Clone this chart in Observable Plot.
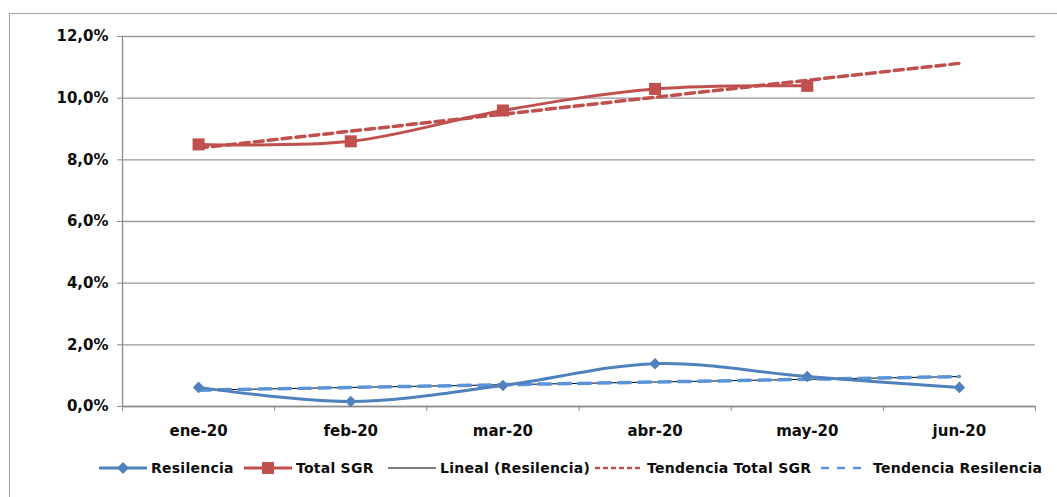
<!DOCTYPE html>
<html>
<head>
<meta charset="utf-8">
<script src="https://cdn.jsdelivr.net/npm/d3@7"></script>
<script src="https://cdn.jsdelivr.net/npm/@observablehq/plot@0.6"></script>
<style>
  html, body { margin: 0; padding: 0; background: #fff; overflow: hidden; }
  #wrap { position: relative; width: 1057px; height: 497px; font-family: "DejaVu Sans", Verdana, sans-serif; }
  #frame { position: absolute; left: 9px; top: 13px; width: 1200px; height: 600px; border-left: 1.5px solid #a3a3a3; border-top: 1.5px solid #a3a3a3; }
  #chart { position: absolute; left: 0; top: 0; }
  #legend { position: absolute; left: 0; top: 460px; width: 1057px; height: 20px; font-weight: bold; font-size: 14px; color: #0d0d0d; white-space: nowrap; letter-spacing: 0.25px; }
  .item { position: absolute; top: 0; display: flex; align-items: center; }
  .item svg { margin-right: 4px; }
</style>
</head>
<body>
<div id="wrap">
  <div id="frame"></div>
  <div id="chart"></div>
  <div id="legend"></div>
</div>
<script>
// ---- data ----
const months = ["ene-20", "feb-20", "mar-20", "abr-20", "may-20", "jun-20"];
const resilencia = [0.62, 0.16, 0.68, 1.39, 0.97, 0.62];
const totalSGR = [8.5, 8.6, 9.6, 10.3, 10.4];
const trendMonths = ["ene-20", "jun-20"];
const tendenciaTotalSGR = [8.38, 11.13];
const tendenciaResilencia = [0.53, 0.97];
const linealResilencia = [0.53, 0.97];
const yTicks = [0, 2, 4, 6, 8, 10, 12];

const blue = "#4f81bd";
const red = "#c0504d";
const lightBlue = "#5b93d8";

const idx = m => months.indexOf(m);
const resData = resilencia.map((v, i) => ({x: i, y: v}));
const sgrData = totalSGR.map((v, i) => ({x: i, y: v}));
const tSgr = trendMonths.map((m, i) => ({x: idx(m), y: tendenciaTotalSGR[i]}));
const tRes = trendMonths.map((m, i) => ({x: idx(m), y: tendenciaResilencia[i]}));
const lRes = trendMonths.map((m, i) => ({x: idx(m), y: linealResilencia[i]}));
const centers = months.map((m, i) => i);
const bounds = months.map((m, i) => i - 0.5).concat([months.length - 0.5]);
const fmt = d => d.toFixed(1).replace(".", ",") + "%";

const plot = Plot.plot({
  width: 1057,
  height: 445,
  marginLeft: 122,
  marginRight: 22,
  marginTop: 36,
  marginBottom: 39,
  style: {fontFamily: "'DejaVu Sans', Verdana, sans-serif", fontWeight: "bold", fontSize: "15px", color: "#0d0d0d", background: "transparent"},
  x: {type: "linear", domain: [-0.5, months.length - 0.5]},
  y: {domain: [0, 12]},
  marks: [
    Plot.gridY(yTicks, {stroke: "#9a9a9a", strokeOpacity: 1, strokeWidth: 1.3}),
    Plot.ruleX([-0.5], {stroke: "#8c8c8c", strokeWidth: 1.3}),
    Plot.ruleY([0], {stroke: "#8c8c8c", strokeWidth: 1.3}),
    Plot.axisY(yTicks, {tickSize: 5, tickPadding: 9, tickFormat: fmt, stroke: "#8c8c8c", fill: "#0d0d0d", label: null, fontSize: 15}),
    Plot.axisX(bounds, {tickSize: 5, tickFormat: () => "", stroke: "#8c8c8c", label: null}),
    Plot.axisX(centers, {tickSize: 0, tickPadding: 19, tickFormat: i => months[i], fill: "#0d0d0d", label: null, fontSize: 15}),
    Plot.line(lRes, {x: "x", y: "y", stroke: "#000", strokeWidth: 1}),
    Plot.line(tRes, {x: "x", y: "y", stroke: lightBlue, strokeWidth: 3.5, strokeDasharray: "12,8"}),
    Plot.line(resData, {x: "x", y: "y", stroke: blue, strokeWidth: 3, curve: "catmull-rom"}),
    Plot.dot(resData, {x: "x", y: "y", symbol: "square", r: 4.6, rotate: 45, fill: blue, stroke: "none"}),
    Plot.line(sgrData, {x: "x", y: "y", stroke: red, strokeWidth: 3, curve: "catmull-rom"}),
    Plot.dot(sgrData, {x: "x", y: "y", symbol: "square", r: 6.8, fill: red, stroke: "none"}),
    Plot.line(tSgr, {x: "x", y: "y", stroke: red, strokeWidth: 3.5, strokeDasharray: "9,5"})
  ]
});
document.getElementById("chart").appendChild(plot);

// ---- legend ----
const legendItems = [
  {label: "Resilencia", color: blue, width: 3, dash: null, marker: "diamond", left: 99},
  {label: "Total SGR", color: red, width: 3, dash: null, marker: "square", left: 244},
  {label: "Lineal (Resilencia)", color: "#000", width: 1.2, dash: null, marker: null, left: 388},
  {label: "Tendencia Total SGR", color: red, width: 2.5, dash: "5,3", marker: null, left: 595},
  {label: "Tendencia Resilencia", color: lightBlue, width: 2.5, dash: "8,8", marker: null, left: 821}
];
const leg = d3.select("#legend");
legendItems.forEach(it => {
  const item = leg.append("div").attr("class", "item").style("left", it.left + "px");
  const sw = item.append("svg").attr("width", 48).attr("height", 14);
  sw.append("line").attr("x1", 0).attr("x2", 48).attr("y1", 7).attr("y2", 7)
    .attr("stroke", it.color).attr("stroke-width", it.width)
    .attr("stroke-dasharray", it.dash);
  if (it.marker === "diamond") {
    sw.append("path").attr("d", "M24,1L30,7L24,13L18,7Z").attr("fill", it.color);
  } else if (it.marker === "square") {
    sw.append("rect").attr("x", 18).attr("y", 1).attr("width", 12).attr("height", 12).attr("fill", it.color);
  }
  item.append("span").text(it.label);
});
</script>
</body>
</html>
